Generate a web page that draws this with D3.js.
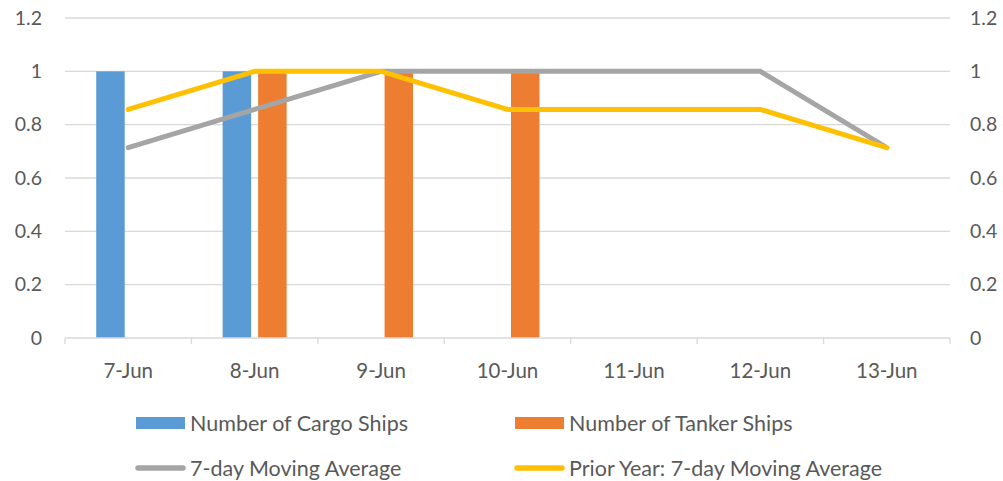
<!DOCTYPE html>
<html>
<head>
<meta charset="utf-8">
<script src="https://cdn.jsdelivr.net/npm/d3@7"></script>
<style>
  html, body { margin: 0; padding: 0; background: #fff; }
  svg text { font-family: Lato, "Open Sans", sans-serif; fill: #595959; }
</style>
</head>
<body>
<svg id="chart" width="1003" height="481"></svg>
<script>
// Daily ship counts and moving averages
const dates = ["7-Jun", "8-Jun", "9-Jun", "10-Jun", "11-Jun", "12-Jun", "13-Jun"];
const cargoShips = [1, 1, 0, 0, 0, 0, 0];
const tankerShips = [0, 1, 1, 1, 0, 0, 0];
const movingAvg = [0.714, 0.857, 1, 1, 1, 1, 0.714];
const priorYearAvg = [0.857, 1, 1, 0.857, 0.857, 0.857, 0.714];
const yTicks = [0, 0.2, 0.4, 0.6, 0.8, 1, 1.2];

const colors = {
  cargo: "#5B9BD5",
  tanker: "#ED7D31",
  avg: "#A5A5A5",
  prior: "#FFC000",
  grid: "#D9D9D9"
};

const svg = d3.select("#chart");
const margin = { left: 65, right: 53, top: 18, bottom: 143 };
const W = 1003, H = 481;
const x0 = margin.left, x1 = W - margin.right;
const yTop = margin.top, yBot = H - margin.bottom;

const x = d3.scaleBand().domain(dates).range([x0, x1]).paddingInner(0).paddingOuter(0);
const y = d3.scaleLinear().domain([0, 1.2]).range([yBot, yTop]);

// Gridlines
svg.append("g")
  .selectAll("line")
  .data(yTicks.filter(d => d > 0))
  .join("line")
  .attr("x1", x0).attr("x2", x1)
  .attr("y1", d => y(d)).attr("y2", d => y(d))
  .attr("stroke", colors.grid).attr("stroke-width", 1.3);

// Left and right value axes
const fmt = d => (d === 0 ? "0" : d3.format("")(+d.toFixed(1)));
const leftAxis = svg.append("g")
  .attr("transform", `translate(${x0 - 23},0)`)
  .call(d3.axisLeft(y).tickValues(yTicks).tickFormat(fmt).tickSize(0).tickPadding(0));
const rightAxis = svg.append("g")
  .attr("transform", `translate(${x1 + 20},0)`)
  .call(d3.axisRight(y).tickValues(yTicks).tickFormat(fmt).tickSize(0).tickPadding(0));
[leftAxis, rightAxis].forEach(g => {
  g.select(".domain").remove();
  g.selectAll("text").attr("font-size", 19.5).style("font-family", "Lato, sans-serif").attr("fill", "#595959");
});

// Bars
const barW = 28.5, barGap = 7;
const groupCenter = d => x(d) + x.bandwidth() / 2;
svg.append("g").selectAll("rect")
  .data(dates.map((d, i) => ({ d, v: cargoShips[i] })).filter(e => e.v > 0))
  .join("rect")
  .attr("x", e => groupCenter(e.d) - barGap / 2 - barW)
  .attr("width", barW)
  .attr("y", e => y(e.v))
  .attr("height", e => y(0) - y(e.v))
  .attr("fill", colors.cargo);
svg.append("g").selectAll("rect")
  .data(dates.map((d, i) => ({ d, v: tankerShips[i] })).filter(e => e.v > 0))
  .join("rect")
  .attr("x", e => groupCenter(e.d) + barGap / 2)
  .attr("width", barW)
  .attr("y", e => y(e.v))
  .attr("height", e => y(0) - y(e.v))
  .attr("fill", colors.tanker);

// Category axis
const bottom = svg.append("g")
  .attr("transform", `translate(0,${yBot})`)
  .call(d3.axisBottom(x).tickSize(0).tickPadding(25));
bottom.select(".domain").attr("stroke", colors.grid).attr("stroke-width", 1.3).attr("d", `M${x0},0H${x1}`);
bottom.selectAll("text").attr("font-size", 20.5).style("font-family", "Lato, sans-serif").attr("fill", "#595959");
// tick marks at category boundaries
svg.append("g").selectAll("line")
  .data(dates.map(d => x(d)).concat([x1]))
  .join("line")
  .attr("x1", d => d).attr("x2", d => d)
  .attr("y1", yBot).attr("y2", yBot + 6)
  .attr("stroke", colors.grid).attr("stroke-width", 1.3);

// Lines
const line = d3.line().x((v, i) => groupCenter(dates[i])).y(v => y(v));
svg.append("path").datum(movingAvg).attr("d", line)
  .attr("fill", "none").attr("stroke", colors.avg).attr("stroke-width", 5).attr("stroke-linejoin", "round").attr("stroke-linecap", "round");
svg.append("path").datum(priorYearAvg).attr("d", line)
  .attr("fill", "none").attr("stroke", colors.prior).attr("stroke-width", 5).attr("stroke-linejoin", "round").attr("stroke-linecap", "round");

// Legend
const legendItems = [
  { label: "Number of Cargo Ships", color: colors.cargo, type: "bar", x: 136, y: 423 },
  { label: "Number of Tanker Ships", color: colors.tanker, type: "bar", x: 515, y: 423 },
  { label: "7-day Moving Average", color: colors.avg, type: "line", x: 136, y: 468 },
  { label: "Prior Year: 7-day Moving Average", color: colors.prior, type: "line", x: 515, y: 468 }
];
const lg = svg.append("g").selectAll("g").data(legendItems).join("g")
  .attr("transform", d => `translate(${d.x},${d.y})`);
lg.each(function (d) {
  const g = d3.select(this);
  if (d.type === "bar") {
    g.append("rect").attr("x", 0).attr("y", -6).attr("width", 49).attr("height", 12).attr("fill", d.color);
  } else {
    g.append("line").attr("x1", 2).attr("x2", 47).attr("y1", 0).attr("y2", 0)
      .attr("stroke", d.color).attr("stroke-width", 5.5).attr("stroke-linecap", "round");
  }
  g.append("text").attr("x", 54).attr("y", 0).attr("dy", "0.35em")
    .attr("font-size", 21.5).text(d.label);
});
</script>
</body>
</html>
